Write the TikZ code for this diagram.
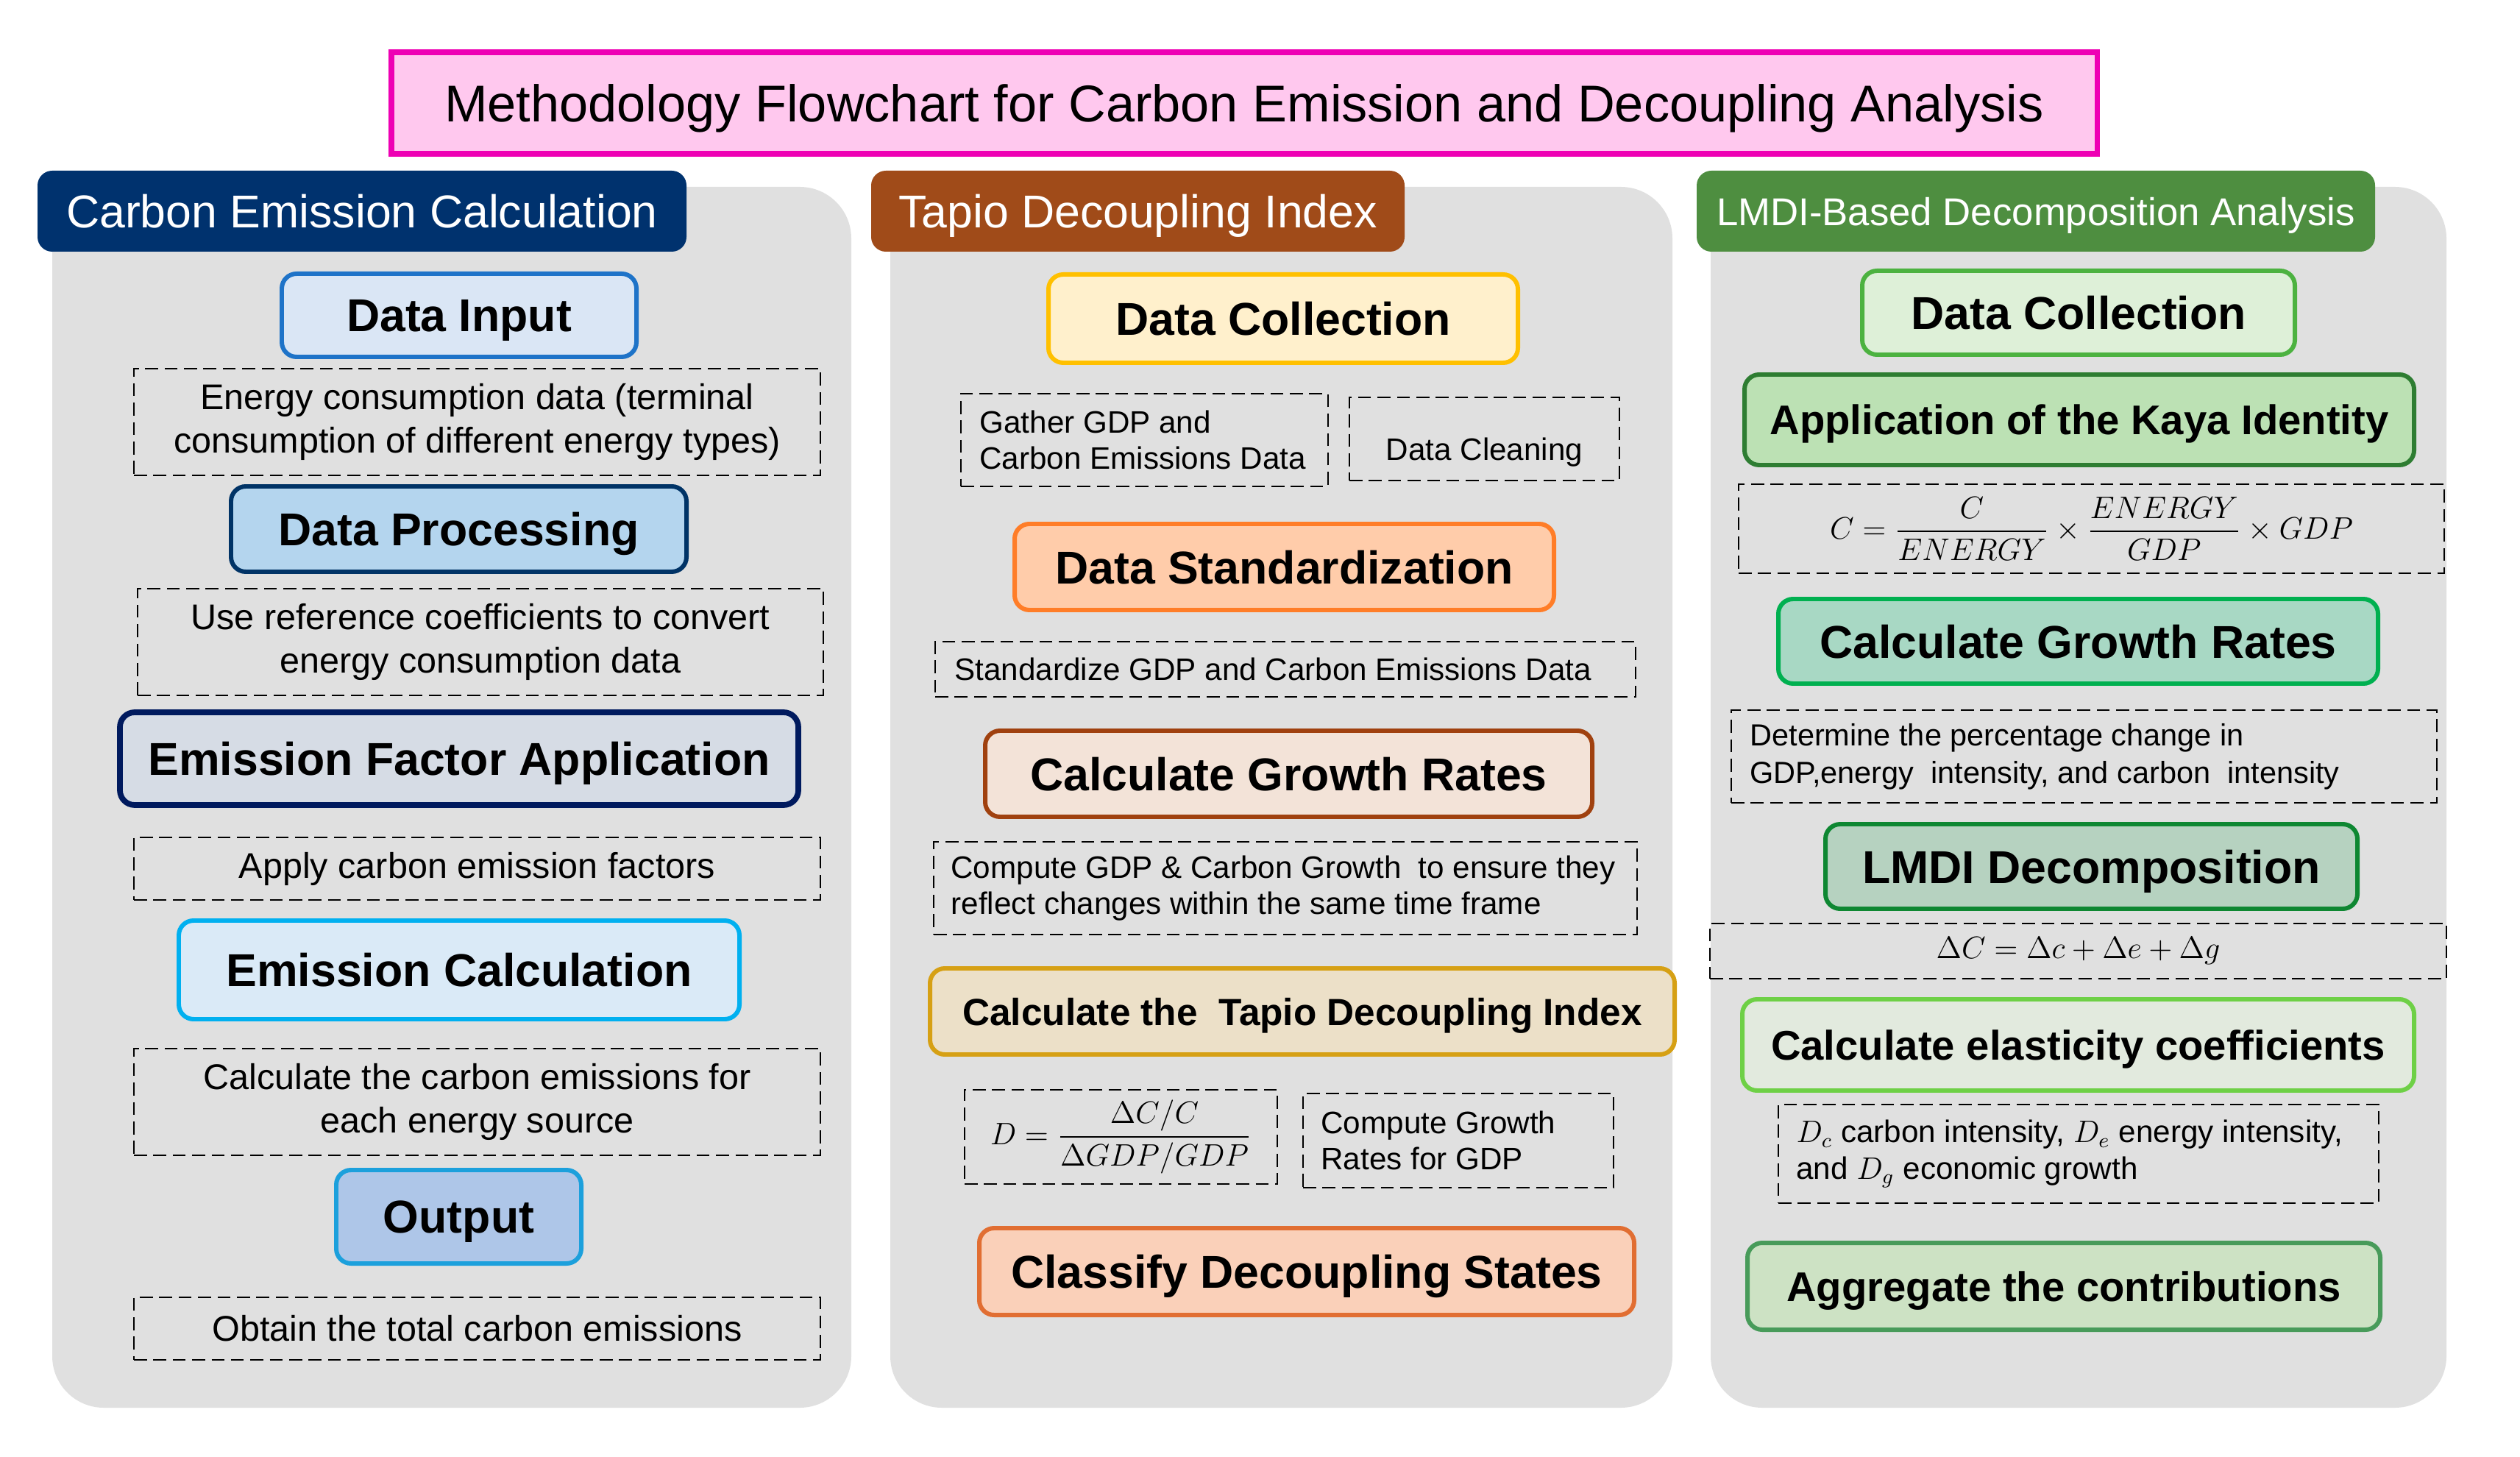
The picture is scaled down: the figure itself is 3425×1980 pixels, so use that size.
\documentclass[tikz,border=0pt]{standalone}
\usepackage{amsmath}
\usepackage{fontspec}
\setmainfont{Liberation Sans}
\usetikzlibrary{fit}
% colours
\definecolor{titlefill}{HTML}{FFC8EE}
\definecolor{titledraw}{HTML}{EE00B4}
\definecolor{panelgray}{HTML}{E0E0E0}
\definecolor{hA}{HTML}{00326E}
\definecolor{hB}{HTML}{A04B19}
\definecolor{hC}{HTML}{4E8E40}
\definecolor{dinD}{HTML}{1E73C8}\definecolor{dinF}{HTML}{DAE6F5}
\definecolor{dprD}{HTML}{003366}\definecolor{dprF}{HTML}{B4D5EE}
\definecolor{efaD}{HTML}{001A5E}\definecolor{efaF}{HTML}{D6DCE5}
\definecolor{ecaD}{HTML}{00B0F0}\definecolor{ecaF}{HTML}{DAEAF7}
\definecolor{outD}{HTML}{1CA0DC}\definecolor{outF}{HTML}{AEC6E8}
\definecolor{dcbD}{HTML}{FFC000}\definecolor{dcbF}{HTML}{FFF0CC}
\definecolor{dstD}{HTML}{FF7D28}\definecolor{dstF}{HTML}{FFCCAA}
\definecolor{cgbD}{HTML}{A0410F}\definecolor{cgbF}{HTML}{F3E3D8}
\definecolor{tapD}{HTML}{D6A014}\definecolor{tapF}{HTML}{ECE0C8}
\definecolor{clsD}{HTML}{E16E32}\definecolor{clsF}{HTML}{FAD0B9}
\definecolor{dccD}{HTML}{4CB240}\definecolor{dccF}{HTML}{DEF0D8}
\definecolor{kayD}{HTML}{2E7D32}\definecolor{kayF}{HTML}{BCE1B4}
\definecolor{cgcD}{HTML}{00B050}\definecolor{cgcF}{HTML}{A8D8C4}
\definecolor{lmdD}{HTML}{0E8732}\definecolor{lmdF}{HTML}{B6D2C0}
\definecolor{elaD}{HTML}{6ED046}\definecolor{elaF}{HTML}{E2EADE}
\definecolor{aggD}{HTML}{489B5A}\definecolor{aggF}{HTML}{CDE2C4}
\tikzset{
  panel/.style={fill=panelgray, draw=none, rounded corners=0.7cm, inner sep=0pt},
  hdr/.style={fill=#1, draw=none, rounded corners=0.2cm, inner sep=0pt},
  oneline/.style={inner sep=0pt, text depth=0pt},
  hdrtxt/.style={oneline, text=white, font=\fontsize{17.8}{20}\selectfont},
  stepbox/.style 2 args={draw=#1, fill=#2, line width=1.7pt, rounded corners=0.2cm,
    inner sep=0pt},
  bigtxt/.style={oneline, font=\fontsize{17.8}{20}\selectfont\bfseries},
  midtxt/.style={oneline, font=\fontsize{16}{19}\selectfont\bfseries},
  dbox/.style={draw=black, dash pattern=on 5pt off 2.5pt, line width=0.7pt, inner sep=0pt},
  ctext/.style={inner sep=0pt, font=\fontsize{13.8}{17}\selectfont, align=center},
  stxt/.style={font=\fontsize{12}{14}\selectfont, align=left, anchor=west, inner sep=0pt},
  mtxt/.style={inner sep=0pt, font=\fontsize{12}{14}\selectfont},
}
% box drawn from two corners, with its text in a node at its centre
\newcommand\cornerbox[5]{%
  \node[#1, fit={#3}] (#2) {};
  \node[#4] (#2t) at (#2.center) {#5};}
\begin{document}
\begin{tikzpicture}[x=0.01cm, y=-0.01cm]
\useasboundingbox (0,0) rectangle (3425,1980);

% title
\cornerbox{draw=titledraw, fill=titlefill, line width=2pt, inner sep=0pt}{title}{(532,71) (2850,209)}
  {oneline, font=\fontsize{20}{24}\selectfont}
  {Methodology Flowchart for Carbon Emission and Decoupling Analysis}

% panels
\node[panel, fit={(71,254) (1157,1913)}] (p1) {};
\node[panel, fit={(1210,254) (2273,1913)}] (p2) {};
\node[panel, fit={(2325,254) (3325,1913)}] (p3) {};

% headers
\cornerbox{hdr=hA}{h1}{(51,232) (933,342)}{hdrtxt}{Carbon Emission Calculation}
\cornerbox{hdr=hB}{h2}{(1184,232) (1909,342)}{hdrtxt}{Tapio Decoupling Index}
\cornerbox{hdr=hC}{h3}{(2306,232) (3228,342)}{hdrtxt, font=\fontsize{15}{18}\selectfont}
  {LMDI-Based Decomposition Analysis}

% ---------- column 1 ----------
\cornerbox{stepbox={dinD}{dinF}}{din}{(383,372) (865,485)}{bigtxt}{Data Input}
\cornerbox{dbox}{d1}{(182,501) (1115,646)}{ctext}
  {Energy consumption data (terminal\\consumption of different energy types)}
\cornerbox{stepbox={dprD}{dprF}}{dpr}{(314,661) (933,777)}{bigtxt}{Data Processing}
\cornerbox{dbox}{d2}{(187,800) (1119,945)}{ctext}
  {Use reference coefficients to convert\\energy consumption data}
\cornerbox{stepbox={efaD}{efaF}, line width=2.2pt}{efa}{(163,968) (1085,1094)}{bigtxt}
  {Emission Factor Application}
\cornerbox{dbox}{d3}{(182,1138) (1115,1223)}{ctext}{Apply carbon emission factors}
\cornerbox{stepbox={ecaD}{ecaF}}{eca}{(243,1251) (1005,1385)}{bigtxt}{Emission Calculation}
\cornerbox{dbox}{d4}{(182,1425) (1115,1570)}{ctext}
  {Calculate the carbon emissions for\\each energy source}
\cornerbox{stepbox={outD}{outF}}{out}{(457,1590) (790,1717)}{bigtxt}{Output}
\cornerbox{dbox}{d5}{(182,1763) (1115,1848)}{ctext}{Obtain the total carbon emissions}

% ---------- column 2 ----------
\cornerbox{stepbox={dcbD}{dcbF}}{dcb}{(1425,373) (2063,493)}{bigtxt}{Data Collection}
\node[dbox, fit={(1306,535) (1805,661)}] (ea) {};
\node[stxt] (eat) at ([xshift=0.26cm]ea.west) {Gather GDP and\\Carbon Emissions Data};
\node[dbox, fit={(1834,540) (2201,653)}] (eb) {};
\node[mtxt] (ebt) at ([yshift=-0.18cm]eb.center) {Data Cleaning};
\cornerbox{stepbox={dstD}{dstF}}{dst}{(1379,712) (2112,829)}{bigtxt}{Data Standardization}
\node[dbox, fit={(1271,872) (2223,947)}] (ec) {};
\node[stxt] (ect) at ([xshift=0.27cm]ec.west) {Standardize GDP and Carbon Emissions Data};
\cornerbox{stepbox={cgbD}{cgbF}}{cgb}{(1339,993) (2164,1110)}{bigtxt}{Calculate Growth Rates}
\node[dbox, fit={(1269,1144) (2225,1270)}] (ed) {};
\node[stxt] (edt) at ([xshift=0.24cm]ed.west)
  {Compute GDP \& Carbon Growth\ \ to ensure they\\reflect changes within the same time frame};
\cornerbox{stepbox={tapD}{tapF}}{tap}{(1264,1316) (2276,1433)}
  {bigtxt, font=\fontsize{14.6}{17}\selectfont\bfseries}
  {Calculate the\ \ Tapio Decoupling Index}
\cornerbox{dbox}{ee}{(1311,1481) (1736,1609)}{mtxt}
  {$D=\dfrac{\Delta C/C}{\Delta GDP/GDP}$}
\node[dbox, fit={(1771,1486) (2193,1614)}] (ef) {};
\node[stxt] (eft) at ([xshift=0.25cm]ef.west) {Compute Growth\\Rates for GDP};
\cornerbox{stepbox={clsD}{clsF}}{cls}{(1331,1669) (2221,1787)}{bigtxt}{Classify Decoupling States}

% ---------- column 3 ----------
\cornerbox{stepbox={dccD}{dccF}}{dcc}{(2531,368) (3119,482)}{bigtxt}{Data Collection}
\cornerbox{stepbox={kayD}{kayF}}{kay}{(2371,509) (3281,632)}{midtxt}
  {Application of the Kaya Identity}
\cornerbox{dbox}{fa}{(2363,658) (3322,779)}{mtxt}
  {$C=\dfrac{C}{ENERGY}\times\dfrac{ENERGY}{GDP}\times GDP$}
\cornerbox{stepbox={cgcD}{cgcF}}{cgc}{(2417,814) (3232,929)}{bigtxt}{Calculate Growth Rates}
\node[dbox, fit={(2353,965) (3312,1091)}] (fb) {};
\node[stxt, font=\fontsize{11.8}{14.5}\selectfont] (fbt) at ([xshift=0.26cm]fb.west)
  {Determine the percentage change in\\GDP,energy\ \ intensity, and carbon\ \ intensity};
\cornerbox{stepbox={lmdD}{lmdF}}{lmd}{(2481,1120) (3204,1235)}{bigtxt}{LMDI Decomposition}
\cornerbox{dbox}{fc}{(2324,1255) (3325,1330)}{mtxt}{$\Delta C=\Delta c+\Delta e+\Delta g$}
\cornerbox{stepbox={elaD}{elaF}}{ela}{(2368,1358) (3281,1482)}{midtxt}
  {Calculate elasticity coefficients}
\node[dbox, fit={(2417,1501) (3233,1635)}] (fd) {};
\node[stxt] (fdt) at ([xshift=0.25cm]fd.west)
  {$D_c$ carbon intensity, $D_e$ energy intensity,\\and $D_g$ economic growth};
\cornerbox{stepbox={aggD}{aggF}}{agg}{(2375,1689) (3235,1807)}{midtxt}
  {Aggregate the contributions}
\end{tikzpicture}
\end{document}
